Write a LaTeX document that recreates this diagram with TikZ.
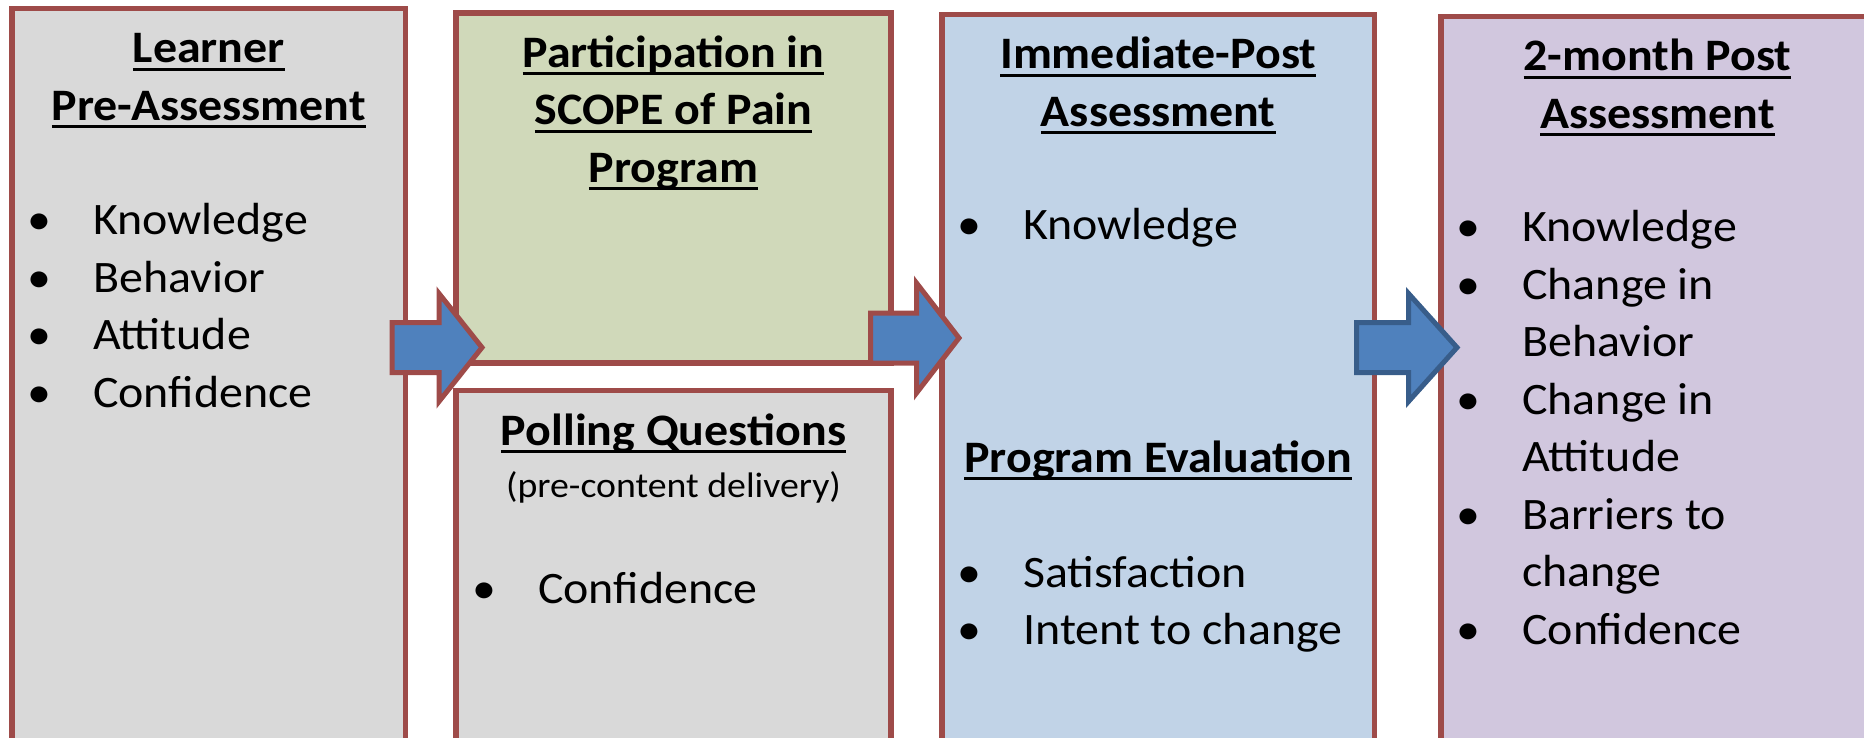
\documentclass[tikz,border=0pt]{standalone}
\usepackage{fontspec}
\setmainfont[FakeStretch=1.065]{Carlito}
\usetikzlibrary{calc}

\definecolor{boxred}{HTML}{9E4B49}
\definecolor{learnergray}{HTML}{D9D9D9}
\definecolor{scopegreen}{HTML}{D0D9BA}
\definecolor{postblue}{HTML}{C1D3E7}
\definecolor{latepurple}{HTML}{D1C7DE}
\definecolor{arrowblue}{HTML}{4F81BD}
\definecolor{arrowdark}{HTML}{385D8A}

\newcommand{\ulhead}[1]{\sbox0{#1}\rlap{\rule[-8pt]{\wd0}{3.2pt}}\usebox0}
\newcommand{\itm}[1]{\makebox[66pt][l]{\textbullet}#1}
\newcommand{\cont}[1]{\hspace*{66pt}#1}
\newcommand{\centerlines}[1]{\begin{tabular}[t]{@{}c@{}}#1\end{tabular}}
\newcommand{\leftlines}[1]{\begin{tabular}[t]{@{}l@{}}#1\end{tabular}}

\begin{document}
\begin{tikzpicture}[x=1pt, y=-1pt, font=\fontsize{45}{57.5}\selectfont,
  box/.style={draw=boxred, line width=5.5pt, anchor=north west, inner sep=0pt, outer sep=0pt, minimum height=780pt},
  head/.style={anchor=base, font=\fontsize{45}{57.5}\selectfont\bfseries},
  items/.style={anchor=base west, inner sep=0pt},
  barrow/.style={draw=boxred, fill=arrowblue, line width=5pt, line join=miter}]

\useasboundingbox (0,0) rectangle (1864,738);
\clip (0,0) rectangle (1864,738);

% boxes
\node[box, fill=learnergray, minimum width=393.5pt] (learner) at (12,8.5) {};
\node[box, fill=scopegreen, minimum width=435pt, minimum height=350pt] (scope) at (456,13) {};
\node[box, fill=learnergray, minimum width=435pt] (poll) at (456,390.5) {};
\node[box, fill=postblue, minimum width=432.5pt] (post) at (942,14.5) {};
\node[box, fill=latepurple, minimum width=433pt] (late) at (1441,16.5) {};

% headings
\node[head] (learnerhead) at ($(learner.north)+(0,54.5)$) {\centerlines{\ulhead{Learner}\\\ulhead{Pre-Assessment}}};
\node[head] (scopehead) at ($(scope.north)+(0,54.5)$) {\centerlines{\ulhead{Participation in}\\\ulhead{SCOPE of Pain}\\\ulhead{Program}}};
\node[head] (pollhead) at ($(poll.north)+(0,54.5)$) {\ulhead{Polling Questions}};
\node[anchor=base, font=\fontsize{35.5}{44}\selectfont] (pollnote) at ($(poll.north)+(0,106.5)$) {(pre-content delivery)};
\node[head] (posthead) at ($(post.north)+(0,54.5)$) {\centerlines{\ulhead{Immediate-Post}\\\ulhead{Assessment}}};
\node[head] (evalhead) at ($(post.north)+(0,457.5)$) {\ulhead{Program Evaluation}};
\node[head] (latehead) at ($(late.north)+(0,54.5)$) {\centerlines{\ulhead{2-month Post}\\\ulhead{Assessment}}};

% bullet lists
\node[items] (learneritems) at ($(learner.north west)+(15,226.5)$) {\leftlines{\itm{Knowledge}\\\itm{Behavior}\\\itm{Attitude}\\\itm{Confidence}}};
\node[items] (pollitems) at ($(poll.north west)+(16,212.5)$) {\itm{Confidence}};
\node[items] (postitems) at ($(post.north west)+(15,225.5)$) {\itm{Knowledge}};
\node[items] (evalitems) at ($(post.north west)+(15,572.5)$) {\leftlines{\itm{Satisfaction}\\\itm{Intent to change}}};
\node[items] (lateitems) at ($(late.north west)+(15,225.5)$) {\leftlines{\itm{Knowledge}\\\itm{Change in}\\\cont{Behavior}\\\itm{Change in}\\\cont{Attitude}\\\itm{Barriers to}\\\cont{change}\\\itm{Confidence}}};

% block arrows
\coordinate (a1) at ($(learner.north east)+(-13.5,339)$);
\draw[barrow] (a1) -- ++(0,-25) -- ++(47,0) -- ++(0,-29) -- ++(43,54) -- ++(-43,54) -- ++(0,-29) -- ++(-47,0) -- cycle;
\coordinate (a2) at ($(scope.north east)+(-20.5,325)$);
\draw[barrow] (a2) -- ++(0,-25) -- ++(46,0) -- ++(0,-30) -- ++(42.5,55) -- ++(-42.5,55) -- ++(0,-30) -- ++(-46,0) -- cycle;
\coordinate (a3) at ($(post.north east)+(-18,333)$);
\draw[barrow, draw=arrowdark] (a3) -- ++(0,-25) -- ++(52,0) -- ++(0,-29) -- ++(48.5,54) -- ++(-48.5,54) -- ++(0,-29) -- ++(-52,0) -- cycle;
\end{tikzpicture}
\end{document}
